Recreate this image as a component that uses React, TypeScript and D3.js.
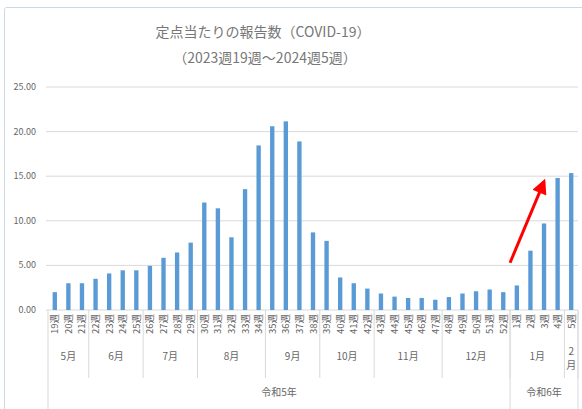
import React from 'react';
import * as d3 from 'd3';

const weeks = [
  '19週', '20週', '21週', '22週', '23週', '24週', '25週', '26週', '27週', '28週',
  '29週', '30週', '31週', '32週', '33週', '34週', '35週', '36週', '37週', '38週',
  '39週', '40週', '41週', '42週', '43週', '44週', '45週', '46週', '47週', '48週',
  '49週', '50週', '51週', '52週', '1週', '2週', '3週', '4週', '5週',
];
const values = [
  2.0, 3.0, 3.0, 3.5, 4.1, 4.45, 4.45, 4.95, 5.85, 6.45,
  7.55, 12.05, 11.4, 8.15, 13.55, 18.45, 20.6, 21.15, 18.9, 8.7,
  7.75, 3.65, 3.0, 2.4, 1.85, 1.5, 1.35, 1.35, 1.15, 1.45,
  1.85, 2.1, 2.3, 2.0, 2.75, 6.65, 9.7, 14.8, 15.35,
];
const months = ['5月', '6月', '7月', '8月', '9月', '10月', '11月', '12月', '1月', '2月'];
const monthSpans = [3, 4, 4, 5, 4, 4, 5, 5, 4, 1];
const years = ['令和5年', '令和6年'];
const yearSpans = [34, 5];
const yTicks = [0, 5, 10, 15, 20, 25];

const W = 582;
const H = 409;
const font = '"Noto Sans CJK JP", "Noto Sans", sans-serif';
const grey = '#666666';

export default function App() {
  const left = 48;
  const right = 578;
  const top = 87;
  const bottom = 310;

  const x = d3.scaleBand<string>().domain(weeks).range([left, right]).paddingInner(0.68).paddingOuter(0.34);
  const y = d3.scaleLinear().domain([0, 25]).range([bottom, top]);
  const step = x.step();
  const edge = (i: number) => left + step * i;

  // group boundaries for the month and year rows
  const groups = (spans: number[]) => {
    let acc = 0;
    return spans.map((s) => {
      const g = { start: acc, end: acc + s };
      acc += s;
      return g;
    });
  };
  const monthGroups = groups(monthSpans);
  const yearGroups = groups(yearSpans);

  // red arrow annotation: from end of 52週 up to 3週
  const ax1 = edge(weeks.indexOf('1週'));
  const ay1 = y(5.3);
  const ax2 = (x('3週') ?? 0) + x.bandwidth() / 2;
  const ay2 = y(14.4);

  return (
    <svg width={W} height={H} style={{ position: 'absolute', left: 0, top: 0, background: '#fff' }} fontFamily={font}>
      <defs>
        <marker id="head" viewBox="0 0 10 10" refX="8" refY="5" markerWidth="5.5" markerHeight="5" orient="auto">
          <path d="M0,0 L10,5 L0,10 z" fill="#ff0000" />
        </marker>
      </defs>
      <rect x={4.5} y={7.5} width={620} height={440} fill="#fff" stroke="#c9d9e6" rx={2} />

      <text x={263} y={37} textAnchor="middle" fontSize={14} fill="#777">定点当たりの報告数（COVID-19）</text>
      <text x={265} y={63} textAnchor="middle" fontSize={14} fill="#777">（2023週19週～2024週5週）</text>

      {yTicks.map((t) => (
        <g key={t}>
          <line x1={left - 2} x2={right} y1={y(t)} y2={y(t)} stroke="#d9d9d9" />
          <text x={36} y={y(t) + 3} textAnchor="end" fontSize={9} fill={grey}>{t.toFixed(2)}</text>
        </g>
      ))}

      {values.map((v, i) => (
        <rect key={weeks[i]} x={x(weeks[i])} y={y(v)} width={x.bandwidth()} height={y(0) - y(v)} fill="#5b9bd5" />
      ))}

      {weeks.map((w) => (
        <text key={w} transform={`translate(${(x(w) ?? 0) + x.bandwidth() / 2 + 3.5},314) rotate(-90)`}
          textAnchor="end" fontSize={9.5} fill={grey}>{w}</text>
      ))}

      {monthGroups.map((g, i) => (
        <g key={months[i]}>
          <line x1={edge(g.end)} x2={edge(g.end)} y1={bottom} y2={378} stroke="#d9d9d9" />
          {months[i] === '2月' ? (
            <text x={(edge(g.start) + edge(g.end)) / 2} y={355} textAnchor="middle" fontSize={10} fill={grey}>
              <tspan x={(edge(g.start) + edge(g.end)) / 2} dy={0}>2</tspan>
              <tspan x={(edge(g.start) + edge(g.end)) / 2} dy={14}>月</tspan>
            </text>
          ) : (
            <text x={(edge(g.start) + edge(g.end)) / 2} y={360} textAnchor="middle" fontSize={10} fill={grey}>{months[i]}</text>
          )}
        </g>
      ))}

      <line x1={left} x2={left} y1={bottom} y2={H} stroke="#d9d9d9" />
      {yearGroups.map((g, i) => (
        <g key={years[i]}>
          <line x1={edge(g.end)} x2={edge(g.end)} y1={bottom} y2={H} stroke="#d9d9d9" />
          <text x={(edge(g.start) + edge(g.end)) / 2} y={396} textAnchor="middle" fontSize={10} fill={grey}>{years[i]}</text>
        </g>
      ))}

      <line x1={ax1} y1={ay1} x2={ax2} y2={ay2} stroke="#ff0000" strokeWidth={3} markerEnd="url(#head)" />
    </svg>
  );
}
